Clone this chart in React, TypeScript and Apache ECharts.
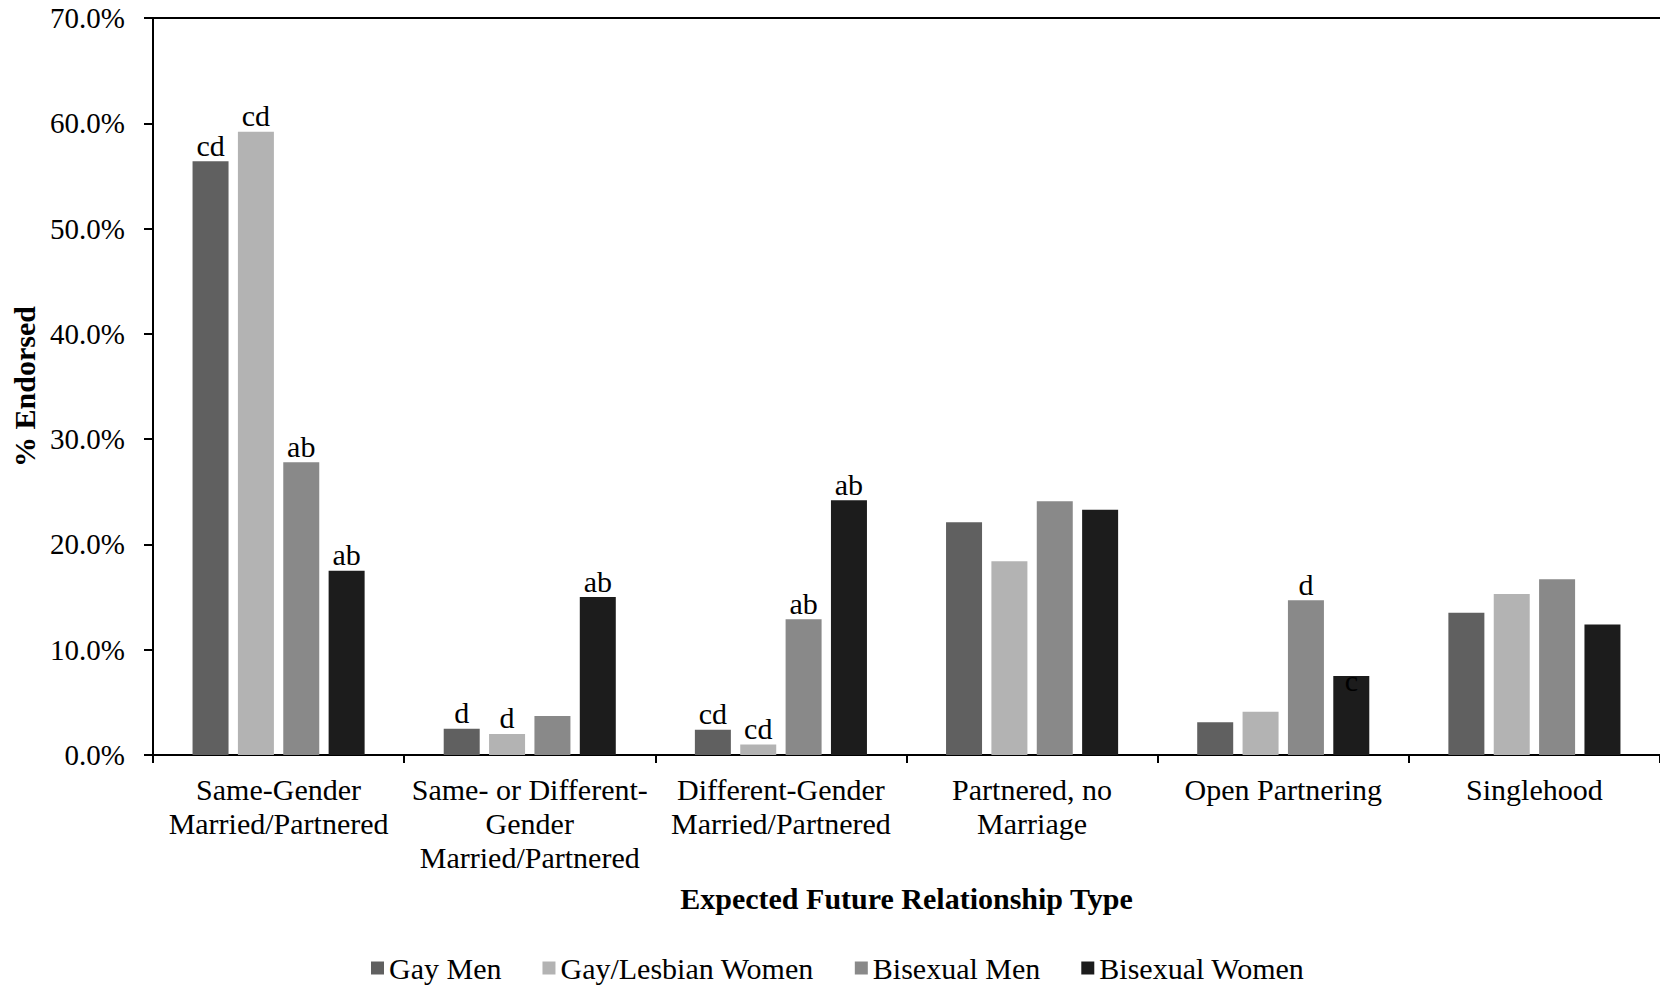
import React, { useEffect, useRef } from "react";
import * as echarts from "echarts";

const categories = [
  "Same-Gender\nMarried/Partnered",
  "Same- or Different-\nGender\nMarried/Partnered",
  "Different-Gender\nMarried/Partnered",
  "Partnered, no\nMarriage",
  "Open Partnering",
  "Singlehood",
];

const seriesNames = ["Gay Men", "Gay/Lesbian Women", "Bisexual Men", "Bisexual Women"];

const gayMen = [56.4, 2.5, 2.4, 22.1, 3.1, 13.5];
const gayLesbianWomen = [59.2, 2.0, 1.0, 18.4, 4.1, 15.3];
const bisexualMen = [27.8, 3.7, 12.9, 24.1, 14.7, 16.7];
const bisexualWomen = [17.5, 15.0, 24.2, 23.3, 7.5, 12.4];

const gayMenLetters = ["cd", "d", "cd", "", "", ""];
const gayLesbianWomenLetters = ["cd", "d", "cd", "", "", ""];
const bisexualMenLetters = ["ab", "", "ab", "", "d", ""];
const bisexualWomenLetters = ["ab", "ab", "ab", "", "c", ""];

const yTicks = { min: 0, max: 70, interval: 10 };

const colors = ["#606060", "#b3b3b3", "#898989", "#1c1c1c"];

const FONT = "'Liberation Serif', 'Times New Roman', serif";

export default function App() {
  const ref = useRef<HTMLDivElement>(null);

  useEffect(() => {
    if (!ref.current) return;
    const chart = echarts.init(ref.current, undefined, { renderer: "svg" });

    const values = [gayMen, gayLesbianWomen, bisexualMen, bisexualWomen];
    const letters = [gayMenLetters, gayLesbianWomenLetters, bisexualMenLetters, bisexualWomenLetters];

    const series: any[] = seriesNames.map((name, si) => ({
      name,
      type: "bar",
      barWidth: 36,
      barGap: "26%",
      itemStyle: { color: colors[si] },
      data: values[si].map((v, ci) => {
        const l = letters[si][ci];
        const item: any = { value: v };
        if (l) {
          const inside = si === 3 && ci === 4;
          item.label = {
            show: true,
            position: "top",
            formatter: l,
            distance: 2,
            offset: inside ? [0, 21] : [0, 1],
            color: "#000",
            fontFamily: FONT,
            fontSize: 30,
          };
        }
        return item;
      }),
      ...(si === 0
        ? {
            markLine: {
              silent: true,
              symbol: "none",
              label: { show: false },
              lineStyle: { color: "#000", width: 2, type: "solid" },
              data: [{ yAxis: yTicks.max }],
            },
          }
        : {}),
    }));

    chart.setOption({
      animation: false,
      textStyle: { fontFamily: FONT, color: "#000" },
      legend: {
        data: seriesNames,
        top: 953,
        left: 371,
        padding: 0,
        icon: "rect",
        itemWidth: 13,
        itemHeight: 13,
        itemGap: 41,
        textStyle: { fontFamily: FONT, fontSize: 30, color: "#000" },
      },
      grid: { left: 153, right: 0, top: 18, bottom: 232, containLabel: false },
      xAxis: {
        type: "category",
        data: categories,
        name: "Expected Future Relationship Type",
        nameLocation: "middle",
        nameGap: 128,
        nameTextStyle: { fontFamily: FONT, fontSize: 30, fontWeight: "bold", color: "#000" },
        axisLine: { show: true, lineStyle: { color: "#000", width: 2 } },
        axisTick: { show: true, length: 8, lineStyle: { color: "#000", width: 2 } },
        axisLabel: {
          interval: 0,
          margin: 17,
          fontFamily: FONT,
          fontSize: 30,
          lineHeight: 34,
          color: "#000",
        },
      },
      yAxis: {
        type: "value",
        min: yTicks.min,
        max: yTicks.max,
        interval: yTicks.interval,
        name: "% Endorsed",
        nameLocation: "middle",
        nameRotate: 90,
        nameGap: 108,
        nameTextStyle: { fontFamily: FONT, fontSize: 30, fontWeight: "bold", color: "#000" },
        axisLine: { show: true, lineStyle: { color: "#000", width: 2 } },
        axisTick: { show: true, length: 9, lineStyle: { color: "#000", width: 2 } },
        splitLine: { show: false },
        axisLabel: {
          margin: 28,
          fontFamily: FONT,
          fontSize: 29,
          color: "#000",
          formatter: (v: number) => `${v.toFixed(1)}%`,
        },
      },
      series,
    });

    return () => chart.dispose();
  }, []);

  return (
    <div
      ref={ref}
      style={{ position: "fixed", left: 0, top: 0, width: 1660, height: 987, background: "#fff" }}
    />
  );
}
